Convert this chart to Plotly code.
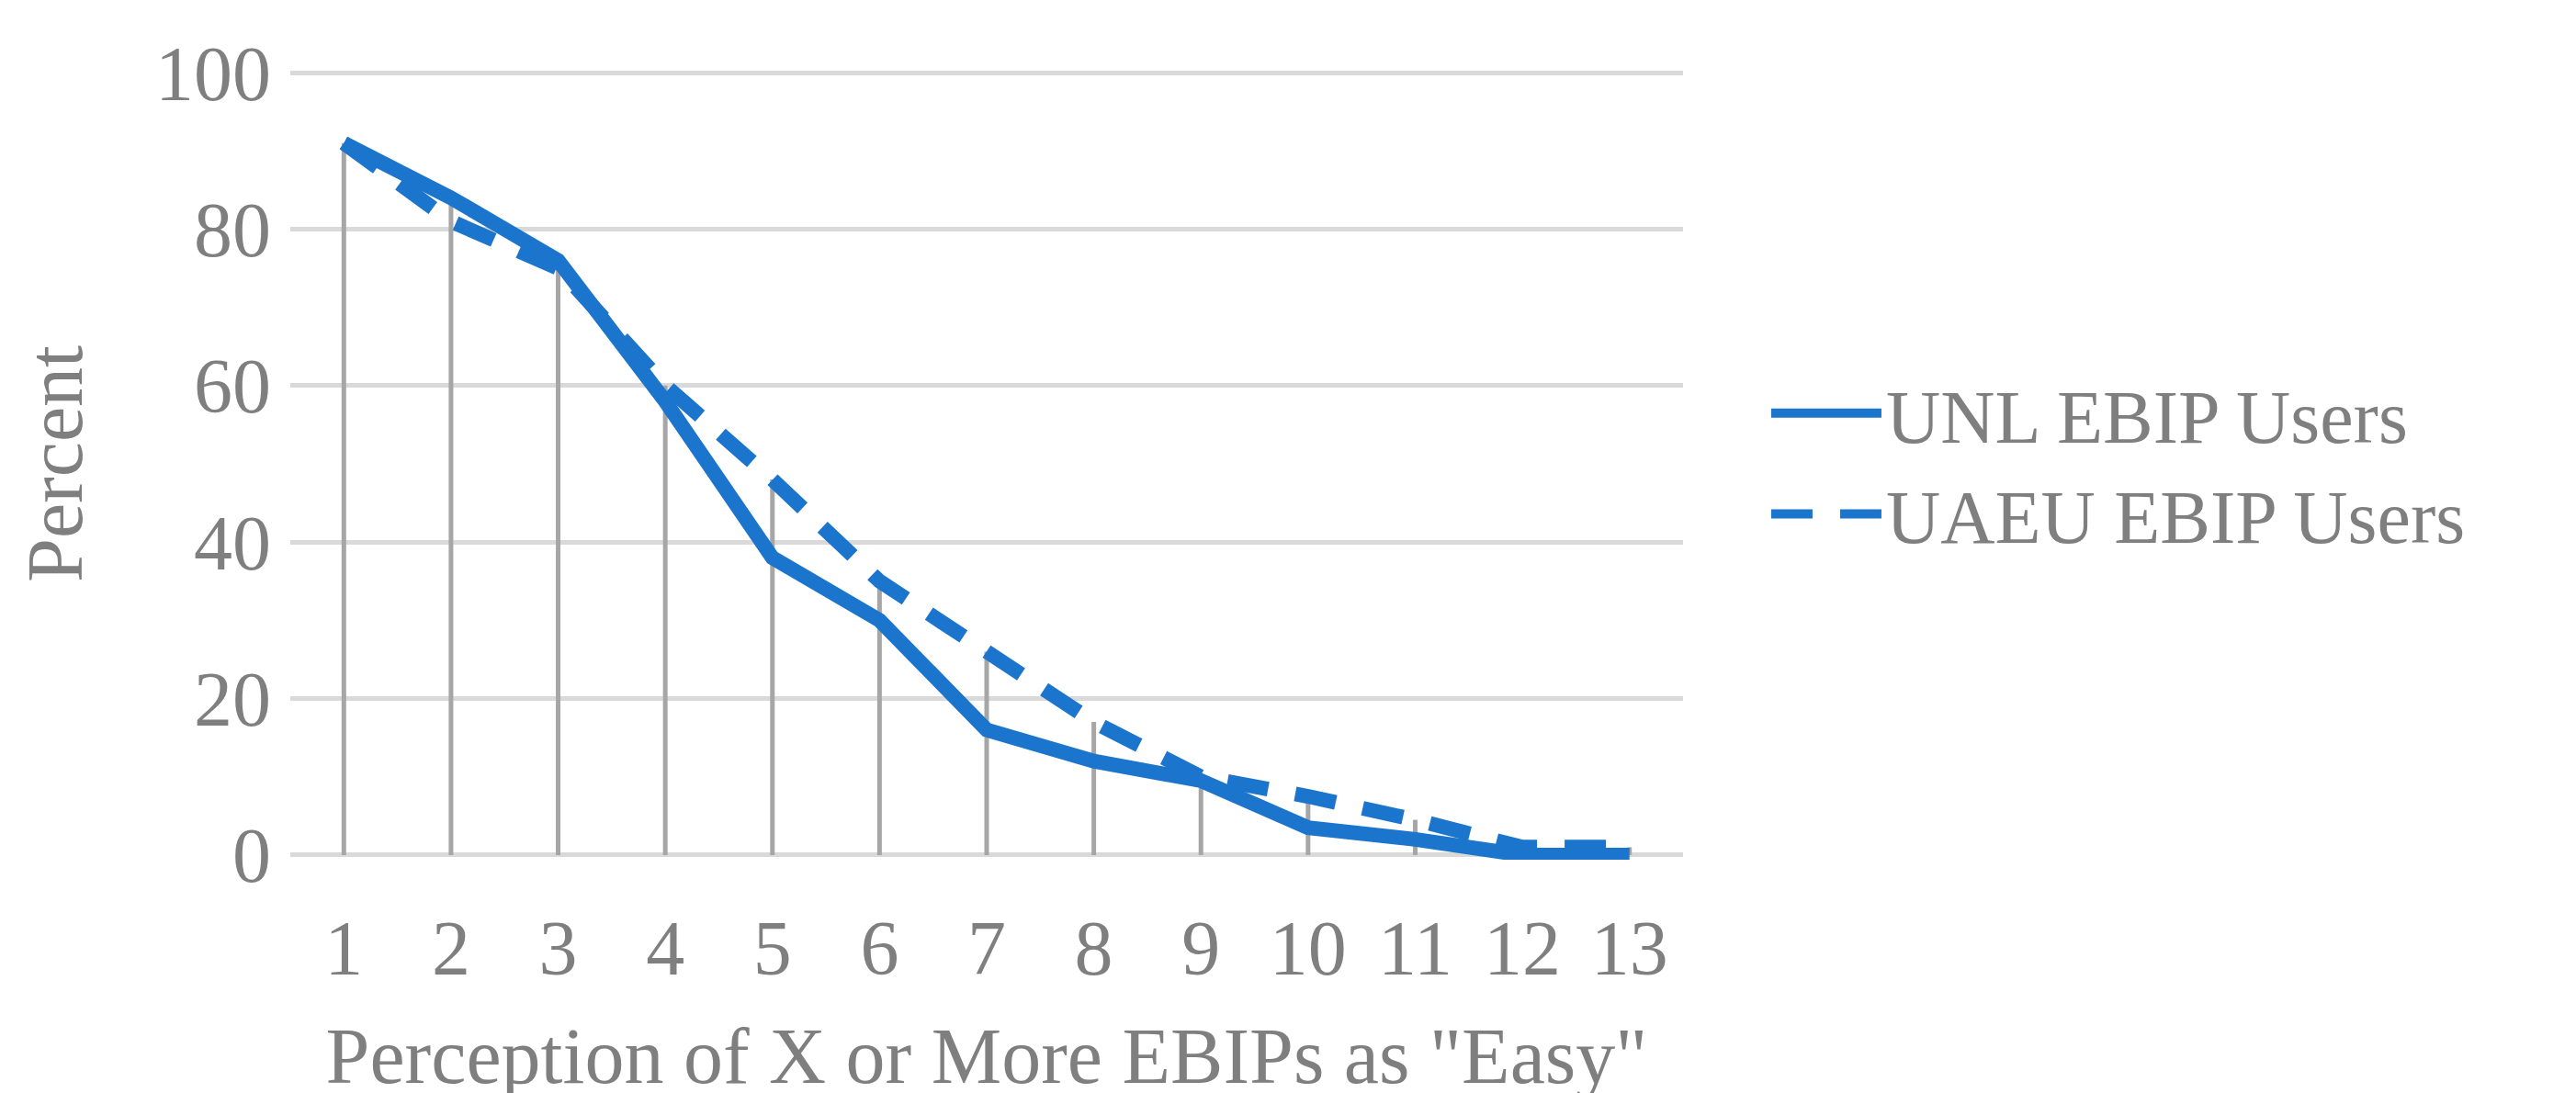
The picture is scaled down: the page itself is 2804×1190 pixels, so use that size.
import plotly.graph_objects as go

# data
x_vals = list(range(1, 14))
unl = [91, 84, 76, 58, 38, 30, 16, 12, 9.5, 3.5, 2, 0, 0]
uaeu = [91, 81, 75, 60, 48, 35, 26, 17, 10, 7.5, 4.5, 1, 1]

gray = '#7f7f7f'
blue = '#1b75cc'
font = 'Liberation Serif'

# drop lines from 0 to the higher of the two series
drop_x, drop_y = [], []
for x, a, b in zip(x_vals, unl, uaeu):
    drop_x += [x, x, None]
    drop_y += [0, max(a, b), None]

fig = go.Figure()
fig.add_trace(go.Scatter(x=drop_x, y=drop_y, mode='lines',
                         line=dict(color='#a6a6a6', width=5),
                         showlegend=False, hoverinfo='skip'))
fig.add_trace(go.Scatter(x=x_vals, y=unl, mode='lines', name='UNL EBIP Users',
                         line=dict(color=blue, width=16)))
fig.add_trace(go.Scatter(x=x_vals, y=uaeu, mode='lines', name='UAEU EBIP Users',
                         line=dict(color=blue, width=16, dash='45px,30px')))

fig.update_layout(
    width=2804, height=1190,
    plot_bgcolor='white', paper_bgcolor='white',
    font=dict(family=font, color=gray, size=84),
    margin=dict(l=308, r=980, t=66, b=262),
    xaxis=dict(range=[0.5, 13.5], tickvals=x_vals, showgrid=False, zeroline=False,
               ticks='', tickfont=dict(size=84), ticklabelstandoff=40,
               title=dict(text='Perception of X or More EBIPs as "Easy"',
                          font=dict(size=86), standoff=45)),
    yaxis=dict(range=[-0.6, 100.6], tickvals=[0, 20, 40, 60, 80, 100],
               gridcolor='#d9d9d9', gridwidth=5,
               zeroline=False, ticks='', tickfont=dict(size=84), ticklabelstandoff=20,
               title=dict(text='Percent', font=dict(size=86), standoff=50)),
    legend=dict(x=1.06, y=0.5, yanchor='middle', font=dict(size=82),
                itemwidth=120, tracegroupgap=60),
)
fig.write_html('out.html')
